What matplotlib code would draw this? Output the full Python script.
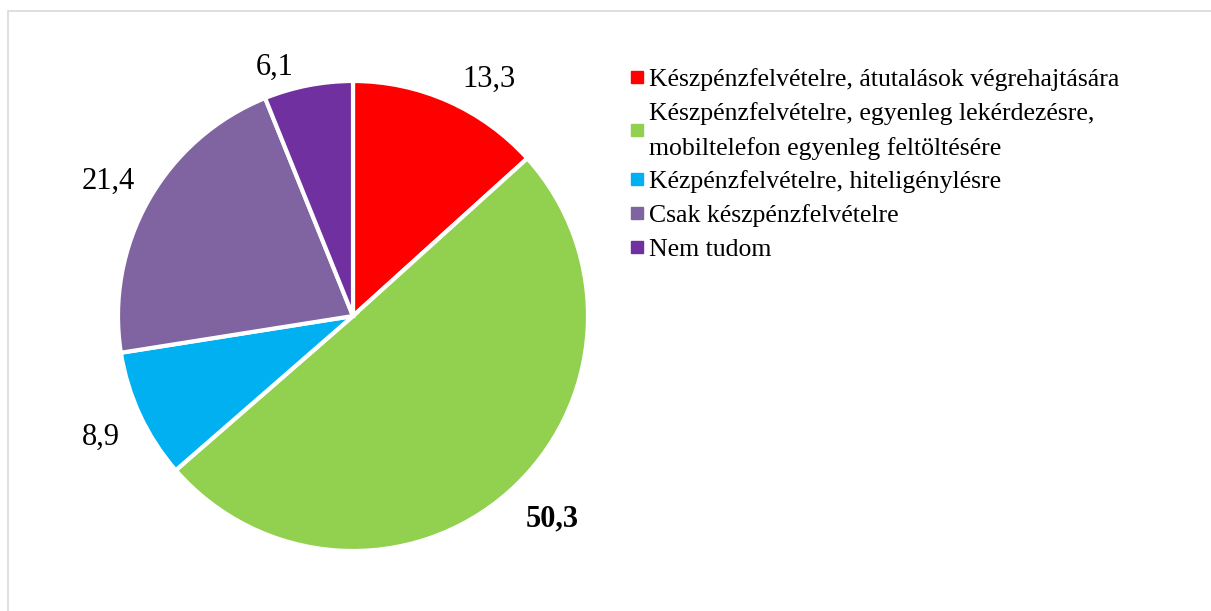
import matplotlib
matplotlib.use("Agg")
import numpy as np
import matplotlib.pyplot as plt
from matplotlib.lines import Line2D
from matplotlib.patches import Rectangle

# adatok
categories = [
    "Készpénzfelvételre, átutalások végrehajtására",
    "Készpénzfelvételre, egyenleg lekérdezésre,\nmobiltelefon egyenleg feltöltésére",
    "Kézpénzfelvételre, hiteligénylésre",
    "Csak készpénzfelvételre",
    "Nem tudom",
]
values = [13.3, 50.3, 8.9, 21.4, 6.1]
value_labels = ["13,3", "50,3", "8,9", "21,4", "6,1"]
colors = ["#FF0000", "#92D050", "#00B0F0", "#8064A2", "#7030A0"]

# címkék elhelyezése (szög eltolás fokban, távolság a sugárhoz képest)
label_shift = [-6, 3, 0.6, 0.8, 6.5]
label_dist = [1.16, 1.21, 1.19, 1.19, 1.11]

plt.rcParams["font.family"] = ["Liberation Serif", "DejaVu Serif"]

W, H = 1211, 611
fig = plt.figure(figsize=(W / 100, H / 100), dpi=100)

# halvány keret
fig.patches.append(Rectangle((8 / W, -0.01), 1.02, (H - 11) / H + 0.01,
                             transform=fig.transFigure, fill=False,
                             edgecolor="#d9d9d9", linewidth=1.2))

# kördiagram
ax = fig.add_axes([118 / W, 60 / H, 470 / W, 470 / H])
wedges, _ = ax.pie(values, colors=colors, startangle=90, counterclock=False,
                   radius=1, wedgeprops=dict(edgecolor="white", linewidth=3))
for i, w in enumerate(wedges):
    ang = np.deg2rad((w.theta1 + w.theta2) / 2 + label_shift[i])
    ax.text(label_dist[i] * np.cos(ang), label_dist[i] * np.sin(ang),
            value_labels[i], fontsize=22, ha="center", va="center",
            fontweight="bold" if values[i] == max(values) else "normal")
ax.set_xlim(-1, 1)
ax.set_ylim(-1, 1)
ax.set_aspect("equal")
ax.axis("off")

# jelmagyarázat
handles = [Line2D([0], [0], marker="s", linestyle="none", markersize=8,
                  markerfacecolor=c, markeredgecolor=c) for c in colors]
leg = fig.legend(handles, categories, loc="upper left",
                 bbox_to_anchor=(619 / W, 1 - 58 / H), frameon=False,
                 fontsize=18.5, handlelength=0.6, handletextpad=0.15,
                 labelspacing=0.42, borderaxespad=0)
for t in leg.get_texts():
    t.set_linespacing(1.65)

fig.savefig("out.png", dpi=100)
